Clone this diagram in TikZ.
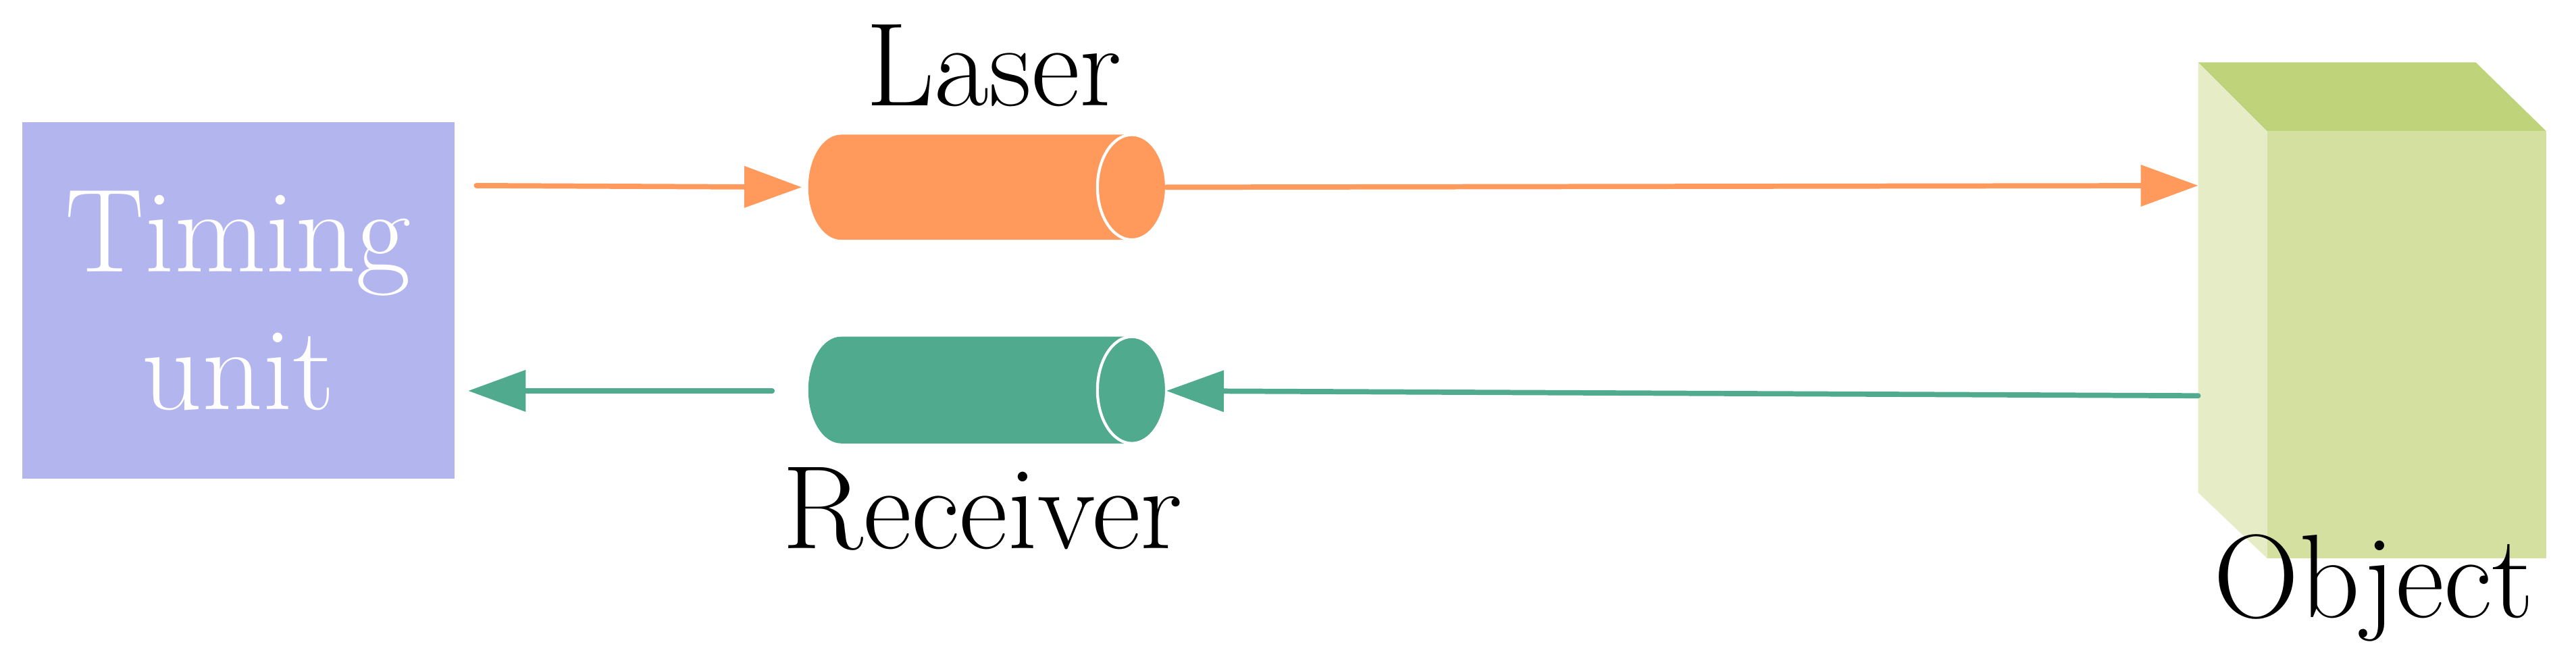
\documentclass[tikz,border=0pt]{standalone}
\usetikzlibrary{arrows.meta}
\definecolor{tim}{HTML}{B3B5EE}
\definecolor{las}{HTML}{FF9A5C}
\definecolor{rec}{HTML}{4FAA8E}
\definecolor{ofront}{HTML}{D4E0A0}
\definecolor{otop}{HTML}{BFD47A}
\definecolor{oside}{HTML}{E5ECC6}
\begin{document}
\begin{tikzpicture}[x=0.02432cm,y=-0.02432cm,
  lbl/.style={font=\fontsize{50}{58}\selectfont,align=center},
  arr/.style={line width=2.2pt,line cap=round,-{Triangle[length=0.85cm,width=0.6cm]}}]
\useasboundingbox (0,0) rectangle (1568,406);
\node[fill=tim,minimum width=263*0.02432cm,minimum height=217*0.02432cm,text=white,lbl] (tu) at (145,183) {Timing\\unit};
% laser cylinder
\fill[las] (512,82) -- (689,82) -- (689,146) -- (512,146) arc[start angle=270,end angle=90,x radius=20*0.02432cm,y radius=32*0.02432cm];
\fill[las,draw=white,line width=1.2pt] (689,114) ellipse[x radius=21*0.02432cm,y radius=32*0.02432cm];
\coordinate (lin) at (488,114); \coordinate (lout) at (710,114);
\node[lbl] (ll) at (605,40) {Laser};
% receiver cylinder
\fill[rec] (512,205) -- (689,205) -- (689,270) -- (512,270) arc[start angle=270,end angle=90,x radius=20*0.02432cm,y radius=32.5*0.02432cm];
\fill[rec,draw=white,line width=1.2pt] (689,237.5) ellipse[x radius=21*0.02432cm,y radius=32.5*0.02432cm];
\coordinate (rin) at (710,238); \coordinate (rout) at (470,238);
\node[lbl] (rl) at (598,310) {Receiver};
% object
\fill[otop] (1338,38) -- (1507,38) -- (1550,80) -- (1380,80) -- cycle;
\fill[oside] (1338,38) -- (1380,80) -- (1380,340) -- (1338,300) -- cycle;
\fill[ofront] (1380,80) rectangle (1550,340);
\coordinate (oin) at (1338,113); \coordinate (oout) at (1338,241);
\node[lbl] (ol) at (1445,358) {Object};
% connectors
\coordinate (t1) at (290,113); \coordinate (t2) at (285,238);
\draw[arr,las] (t1) -- (lin);
\draw[arr,las] (lout) -- (oin);
\draw[arr,rec] (rout) -- (t2);
\draw[arr,rec] (oout) -- (rin);
\end{tikzpicture}
\end{document}
